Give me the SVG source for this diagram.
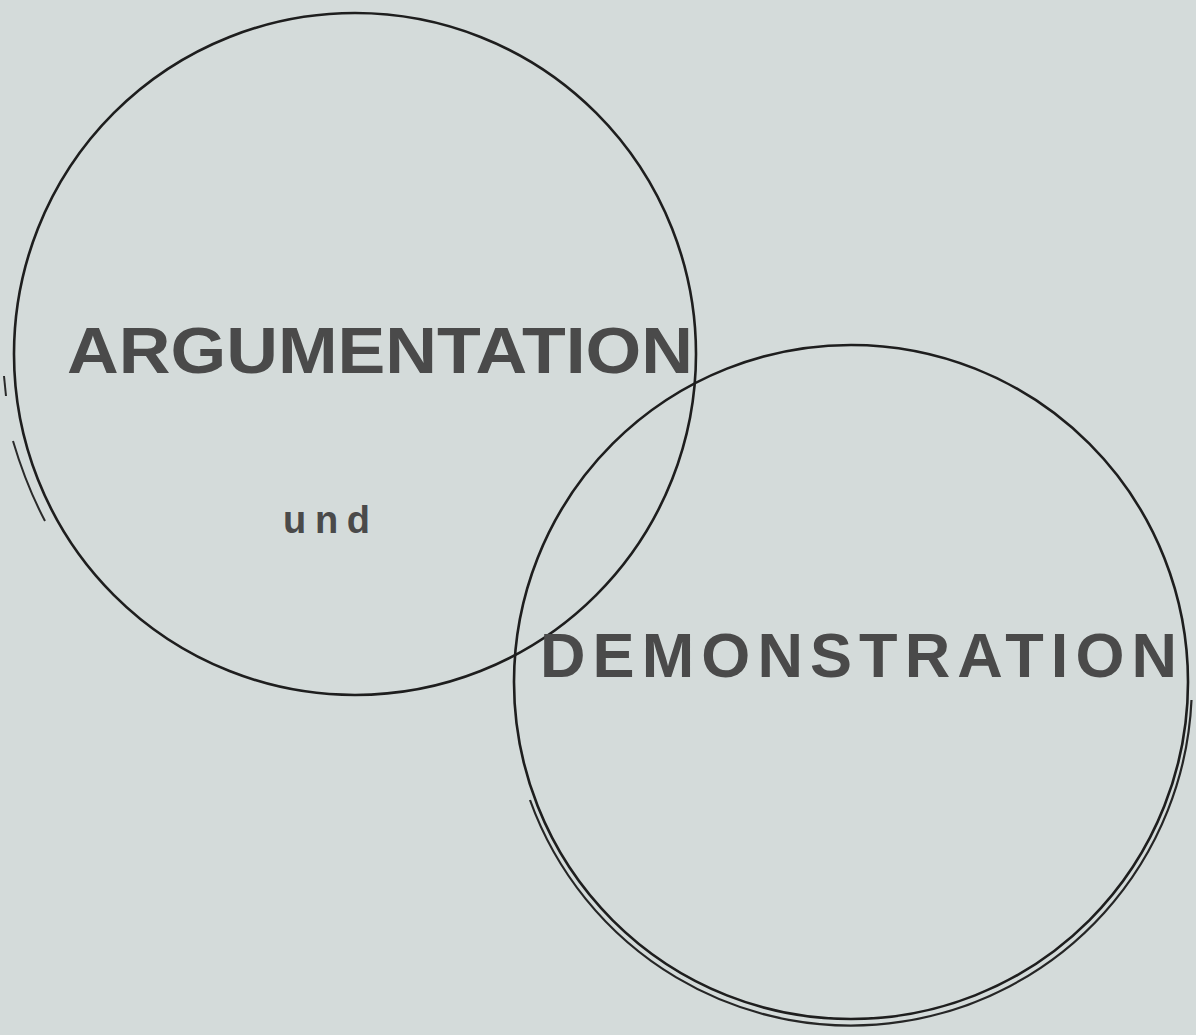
<svg xmlns="http://www.w3.org/2000/svg" width="1196" height="1035" viewBox="0 0 1196 1035">
<style>
.bg{fill:#d4dbda}
.ring{fill:none;stroke:#1e1e1e;stroke-width:2.6}
.ring2{fill:none;stroke:#262626;stroke-width:2.2}
.frag{fill:none;stroke:#2a2a2a;stroke-width:2}
.lbl{font-family:"Liberation Sans","DejaVu Sans",Arial,sans-serif;font-weight:bold;fill:#4a4a4a}
</style>
<rect class="bg" x="0" y="0" width="1196" height="1035"/>
<g id="connectors">
</g>
<g id="circle-argumentation">
<circle class="ring" cx="355" cy="354" r="341"/>
<path class="frag" d="M 4 376 L 6 396"/>
<path class="frag" d="M 13 441 Q 26 485 45 521"/>
</g>
<g id="circle-demonstration">
<circle class="ring" cx="851" cy="682" r="337"/>
<path class="ring2" d="M 1191.5 700 A 341 341 0 0 1 530 800"/>
</g>
<g id="text-argumentation">
<text class="lbl" x="67" y="373" font-size="64" textLength="626" lengthAdjust="spacingAndGlyphs">ARGUMENTATION</text>
</g>
<g id="text-und">
<text class="lbl" x="283" y="533" font-size="38" textLength="87" lengthAdjust="spacing">und</text>
</g>
<g id="text-demonstration">
<text class="lbl" x="540" y="677" font-size="63" textLength="637" lengthAdjust="spacing">DEMONSTRATION</text>
</g>
</svg>
